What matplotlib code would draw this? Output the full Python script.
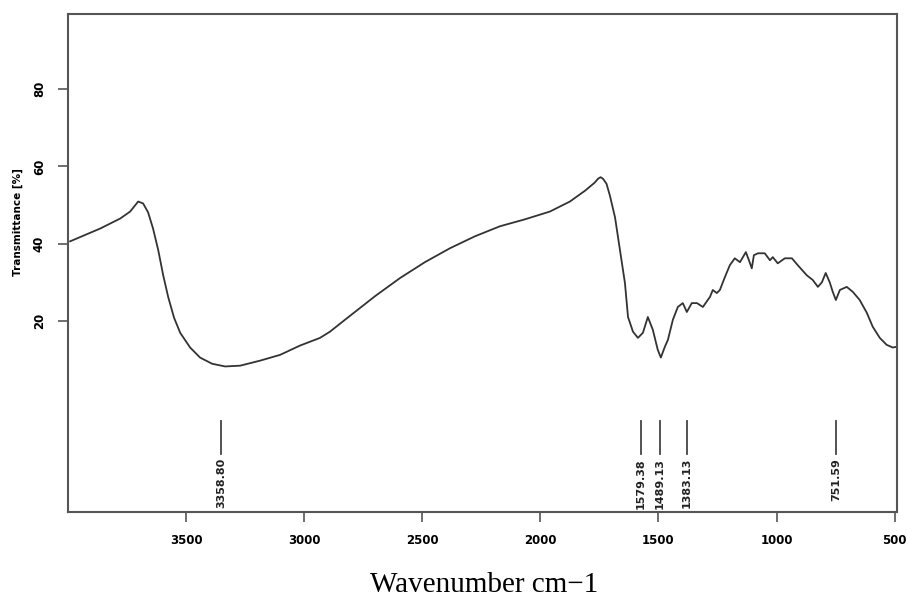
import matplotlib
matplotlib.use("Agg")
import matplotlib.pyplot as plt

wavenumber = [3991, 3864, 3779, 3737, 3703, 3682, 3661, 3640, 3618, 3597, 3576, 3551, 3525, 3483,
              3441, 3390, 3335, 3271, 3187, 3102, 3018, 2933, 2891, 2827, 2700, 2594, 2489, 2383,
              2277, 2171, 2065, 1960, 1875, 1811, 1770, 1756, 1745, 1735, 1720, 1706, 1684, 1663, 1642, 1629, 1608,
              1587, 1566, 1545, 1524, 1503, 1490, 1473, 1460, 1439, 1418, 1397, 1380, 1359, 1337,
              1312, 1282, 1270, 1253, 1240, 1219, 1198, 1177, 1155, 1130, 1117, 1105, 1096, 1079,
              1050, 1028, 1016, 995, 965, 935, 910, 872, 847, 825, 808, 792, 775, 762, 749, 732,
              703, 677, 648, 618, 593, 563, 534, 508, 491]
transmittance = [40.6, 43.9, 46.5, 48.3, 50.9, 50.4, 48.1, 43.9, 38.3, 31.8, 26.2, 20.8, 16.9, 13.1,
                 10.5, 8.9, 8.2, 8.4, 9.7, 11.2, 13.6, 15.6, 17.2, 20.3, 26.4, 31.1, 35.2, 38.8,
                 41.9, 44.5, 46.3, 48.3, 50.9, 53.7, 55.8, 56.8, 57.2, 56.8, 55.5, 52.5, 46.8, 38.3, 29.8, 21.0, 17.2,
                 15.6, 16.9, 21.0, 17.7, 12.5, 10.5, 13.3, 15.1, 20.3, 23.6, 24.6, 22.3, 24.6, 24.6,
                 23.6, 26.2, 28.0, 27.2, 28.0, 31.3, 34.4, 36.2, 35.2, 37.8, 35.7, 33.6, 37.0, 37.5,
                 37.5, 35.7, 36.5, 34.9, 36.2, 36.2, 34.4, 31.8, 30.6, 28.8, 30.0, 32.4, 30.0, 27.5, 25.4, 28.0,
                 28.8, 27.5, 25.4, 22.1, 18.5, 15.6, 13.8, 13.1, 13.3]

peak_positions = [3352, 1575, 1494, 1380, 749]
peak_labels = ["3358.80", "1579.38", "1489.13", "1383.13", "751.59"]

xticks = [3500, 3000, 2500, 2000, 1500, 1000, 500]
yticks = [20, 40, 60, 80]

fig = plt.figure(figsize=(9.07, 6.01), dpi=100)
ax = fig.add_axes([0.075, 0.148, 0.914, 0.829])

ax.plot(wavenumber, transmittance, color="#333333", lw=1.3)

ax.set_xlim(4000, 490)
ax.set_ylim(-29.5, 99.5)

for p, lab in zip(peak_positions, peak_labels):
    ax.plot([p, p], [-6, -14.5], color="#444444", lw=1.3)
    ax.text(p, -15.5, lab, rotation=90, ha="center", va="top", fontsize=8,
            fontweight="bold", color="#222222")

ax.set_xticks(xticks)
ax.set_xticklabels([str(v) for v in xticks], fontsize=8.5, fontweight="bold")
ax.set_yticks(yticks)
ax.set_yticklabels([str(v) for v in yticks], fontsize=8.5, fontweight="bold", rotation=90,
                   va="center")
ax.tick_params(axis="both", direction="out", length=7, width=1.2, color="#555555", pad=9)

for s in ax.spines.values():
    s.set_color("#555555")
    s.set_linewidth(1.5)

fig.text(18 / 907, 1 - 222 / 601, "Transmittance [%]", rotation=90, ha="center", va="center",
         fontsize=7.5, fontweight="bold")
fig.text(484 / 907, 1 - 585 / 601, "Wavenumber cm\u22121", ha="center", va="center",
         fontsize=21, family="Liberation Serif")

fig.savefig("out.png", dpi=100)
